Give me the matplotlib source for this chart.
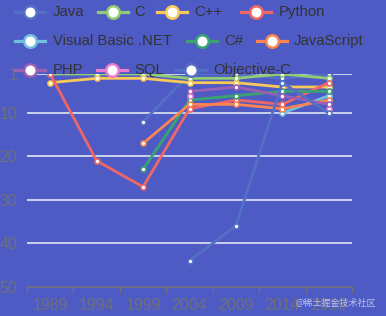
import numpy as np
import matplotlib
matplotlib.use("Agg")
import matplotlib.pyplot as plt
from matplotlib.lines import Line2D

years = ["1989", "1994", "1999", "2004", "2009", "2014", "2019"]
languages = ["Java", "C", "C++", "Python", "Visual Basic .NET", "C#",
             "JavaScript", "PHP", "SQL", "Objective-C"]
nan = np.nan
java = [nan, nan, 12, 1, 1, 2, 1]
c_lang = [1, 1, 1, 2, 2, 1, 2]
cpp = [3, 2, 2, 3, 3, 4, 4]
python = [1, 21, 27, 9, 7, 8, 3]
vbnet = [nan, nan, nan, nan, nan, 10, 6]
csharp = [nan, nan, 23, 7, 6, 5, 5]
javascript = [nan, nan, 17, 8, 8, 9, 7]
php = [nan, nan, nan, 5, 4, 6, 8]
sql = [nan, nan, nan, 6, nan, nan, 9]
objc = [nan, nan, nan, 44, 36, 3, 10]
series = [java, c_lang, cpp, python, vbnet, csharp, javascript, php, sql, objc]
y_ticks = [1, 10, 20, 30, 40, 50]

palette = ['#5470c6', '#91cc75', '#fac858', '#ee6666', '#73c0de',
           '#3ba272', '#fc8452', '#9a60b4', '#ea7ccc', '#5470c6']
bg = '#4f5bc4'

plt.rcParams['font.family'] = ['Liberation Sans', 'DejaVu Sans']

W, H = 386, 316
fig = plt.figure(figsize=(W / 100, H / 100), dpi=100, facecolor=bg)
ax = fig.add_axes([27 / W, 1 - 286.7 / H, (352 - 27) / W, (286.7 - 74) / H])
ax.set_facecolor(bg)

x = np.arange(len(years))
for i, (name, vals) in enumerate(zip(languages, series)):
    ax.plot(x, vals, color=palette[i], lw=2.0, marker='o', ms=3.6,
            mfc='white', mec=palette[i], mew=1.2, zorder=3 + i,
            solid_joinstyle='round')

ax.set_xlim(-0.5, len(years) - 0.5)
ax.set_ylim(50, 1)
ax.set_yticks(y_ticks)
ax.set_xticks(x)
ax.set_xticklabels(years)
ax.set_xticks(np.arange(len(years) + 1) - 0.5, minor=True)
ax.tick_params(axis='x', which='major', length=0, pad=8, labelsize=11.5,
               labelcolor='#6e7079')
ax.tick_params(axis='x', which='minor', length=4, width=1, color='#6e7079',
               direction='out')
ax.tick_params(axis='y', length=0, pad=7, labelsize=11.5, labelcolor='#6e7079')
for v in y_ticks[:-1]:
    ax.axhline(v, color='#e0e6f1', lw=1.2, zorder=1)
for s in ['top', 'right', 'left']:
    ax.spines[s].set_visible(False)
ax.spines['bottom'].set_color('#6e7079')
ax.spines['bottom'].set_linewidth(1.2)

# legend drawn manually at the reference positions
legend_pos = [(30, 53, 12), (113, 134, 12), (172, 194, 12), (256, 279, 12),
              (30, 53, 41), (202, 224, 41), (272, 294, 41),
              (30, 53, 70), (112, 134, 70), (191, 213, 70)]
for i, (name, (cx, tx, ry)) in enumerate(zip(languages, legend_pos)):
    yy = 1 - ry / H
    fig.add_artist(Line2D([(cx - 15) / W, (cx + 15) / W], [yy, yy],
                          color=palette[i], lw=2.3, zorder=20))
    fig.add_artist(Line2D([cx / W], [yy], marker='o', ms=9, mfc='white',
                          mec=palette[i], mew=1.8, zorder=21))
    fig.text(tx / W, yy, name, fontsize=10.7, color='#333333',
             va='center', ha='left', zorder=22)

fig.text(376 / W, 1 - 303 / H, '@稀土掘金技术社区', fontsize=6.5,
         color='#d8dcf0', ha='right', va='center', alpha=0.8,
         family=['Noto Sans CJK SC', 'DejaVu Sans'])

fig.savefig('out.png', dpi=100, facecolor=bg)
